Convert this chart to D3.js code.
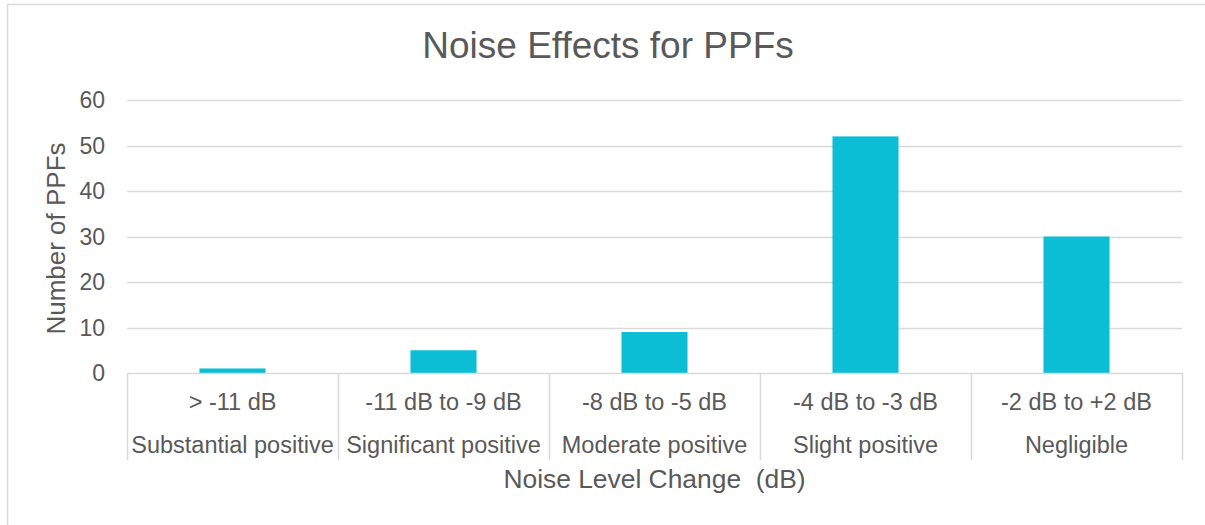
<!DOCTYPE html>
<html>
<head>
<meta charset="utf-8">
<script src="https://cdn.jsdelivr.net/npm/d3@7/dist/d3.min.js"></script>
<style>
  html, body { margin: 0; padding: 0; background: #fff; overflow: hidden; }
  svg { display: block; font-family: "Liberation Sans", Arial, sans-serif; }
</style>
</head>
<body>
<svg id="chart" width="1205" height="525"></svg>
<script>
const ranges = ["> -11 dB", "-11 dB to -9 dB", "-8 dB to -5 dB", "-4 dB to -3 dB", "-2 dB to +2 dB"];
const effects = ["Substantial positive", "Significant positive", "Moderate positive", "Slight positive", "Negligible"];
const counts = [1, 5, 9, 52, 30];
const yTicks = [0, 10, 20, 30, 40, 50, 60];
const titleText = "Noise Effects for PPFs";
const xTitle = "Noise Level Change  (dB)";
const yTitle = "Number of PPFs";

(function () {
const svg = d3.select("#chart");
const textColor = "#595959";
const gridColor = "#d9d9d9";
const barColor = "#0bbed6";

const pLeft = 127, pRight = 1182, pTop = 100, pBottom = 373;
const pad = 0.687;

// outer border (left and top edges visible; right/bottom lie outside the picture)
svg.append("path").attr("d", "M7.5,525 L7.5,4.5 L1205,4.5")
  .attr("fill", "none").attr("stroke", gridColor).attr("stroke-width", 1.5);

const x = d3.scaleBand().domain(ranges).range([pLeft, pRight]).paddingInner(pad).paddingOuter(pad / 2);
const y = d3.scaleLinear().domain([0, 60]).range([pBottom, pTop]);

// gridlines
svg.append("g").selectAll("line").data(yTicks.filter(t => t > 0)).join("line")
  .attr("x1", pLeft).attr("x2", pRight)
  .attr("y1", d => Math.round(y(d)) + 0.5).attr("y2", d => Math.round(y(d)) + 0.5)
  .attr("stroke", gridColor).attr("stroke-width", 1.5);

// y axis tick labels
svg.append("g").selectAll("text").data(yTicks).join("text")
  .attr("x", 105).attr("y", d => y(d) + 8)
  .attr("text-anchor", "end").attr("fill", textColor).attr("font-size", 23)
  .text(d => d);

// bars
svg.append("g").selectAll("rect").data(counts).join("rect")
  .attr("x", (d, i) => x(ranges[i]))
  .attr("width", x.bandwidth())
  .attr("y", d => y(d))
  .attr("height", d => y(0) - y(d))
  .attr("fill", barColor);

// category axis line
svg.append("line").attr("x1", pLeft).attr("x2", pRight)
  .attr("y1", pBottom + 0.5).attr("y2", pBottom + 0.5)
  .attr("stroke", gridColor).attr("stroke-width", 1.5);

// dividers
const step = x.step();
const dividers = d3.range(ranges.length + 1).map(i => pLeft + i * step);
svg.append("g").selectAll("line").data(dividers).join("line")
  .attr("x1", d => Math.round(d) + 0.5).attr("x2", d => Math.round(d) + 0.5)
  .attr("y1", pBottom).attr("y2", 460)
  .attr("stroke", gridColor).attr("stroke-width", 1.5);

// category labels
const centers = ranges.map(r => x(r) + x.bandwidth() / 2);
svg.append("g").selectAll("text").data(ranges).join("text")
  .attr("x", (d, i) => centers[i]).attr("y", 410)
  .attr("text-anchor", "middle").attr("fill", textColor).attr("font-size", 23.5)
  .text(d => d);
svg.append("g").selectAll("text").data(effects).join("text")
  .attr("x", (d, i) => centers[i]).attr("y", 453)
  .attr("text-anchor", "middle").attr("fill", textColor).attr("font-size", 23.5)
  .text(d => d);

// title
svg.append("text").attr("x", 608).attr("y", 58)
  .attr("text-anchor", "middle").attr("fill", textColor).attr("font-size", 37)
  .text(titleText);

// x axis title
svg.append("text").attr("x", (pLeft + pRight) / 2).attr("y", 488)
  .attr("text-anchor", "middle").attr("fill", textColor).attr("font-size", 26.4)
  .style("white-space", "pre").attr("xml:space", "preserve")
  .text(xTitle);

// y axis title
svg.append("text")
  .attr("transform", `translate(65, ${(pTop + pBottom) / 2 + 2}) rotate(-90)`)
  .attr("text-anchor", "middle").attr("fill", textColor).attr("font-size", 26)
  .text(yTitle);
})();
</script>
</body>
</html>
